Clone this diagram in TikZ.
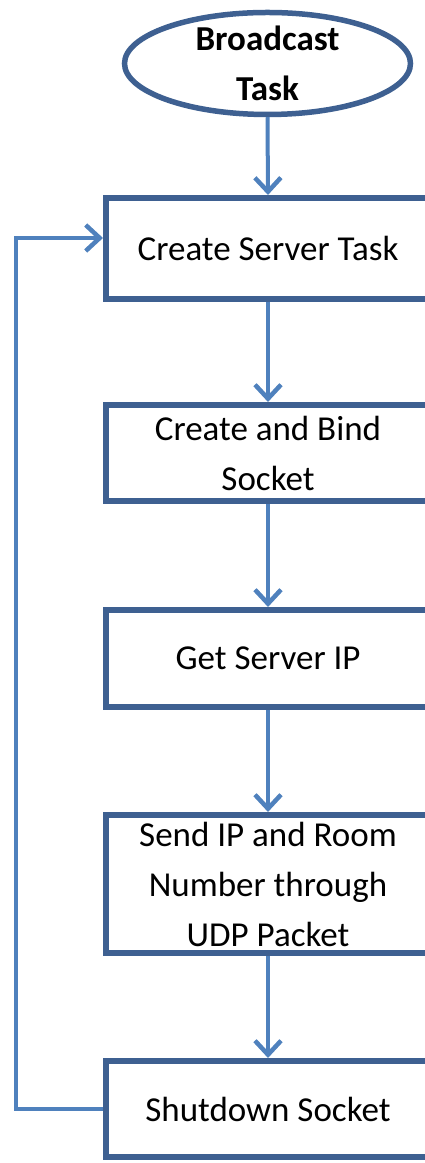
\documentclass[tikz,border=0pt]{standalone}
\usepackage{fontspec}
\setmainfont{Carlito}
\usetikzlibrary{arrows.meta,shapes.geometric}
\definecolor{boxblue}{RGB}{62,96,145}
\definecolor{flowblue}{RGB}{79,129,189}
\begin{document}
\begin{tikzpicture}[x=1pt,y=1pt,
  stepbox/.style={draw=boxblue, line width=6pt, rectangle,
    minimum width=324pt, inner sep=0pt, align=center,
    font=\fontsize{35}{50}\selectfont},
  startnode/.style={draw=boxblue, line width=5.5pt, ellipse,
    minimum width=286pt, minimum height=102pt, inner sep=0pt},
  flow/.style={draw=flowblue, line width=4pt,
    -{Straight Barb[length=14pt,width=26pt,line width=4.5pt]}}]
\clip (0,0) rectangle (425,1163);
\useasboundingbox (0,0) rectangle (425,1163);

% start terminal
\node[startnode] (start) at (267.5,1099.5) {};
\node[font=\bfseries\fontsize{35}{50}\selectfont, align=center, inner sep=0pt]
  (starttxt) at (start) {Broadcast\\Task};

% process steps
\node[stepbox, minimum height=101pt] (b1) at (268,914.5) {Create Server Task};
\node[stepbox, minimum height=96pt]  (b2) at (268,710)   {Create and Bind\\Socket};
\node[stepbox, minimum height=97pt]  (b3) at (268,504.5) {Get Server IP};
\node[stepbox, minimum height=138pt] (b4) at (268,279)   {Send IP and Room\\Number through\\UDP Packet};
\node[stepbox, minimum height=96pt]  (b5) at (268,54)    {Shutdown Socket};

% main flow
\draw[flow] (start.south) -- (b1.north);
\draw[flow] (b1.south) -- (b2.north);
\draw[flow] (b2.south) -- (b3.north);
\draw[flow] (b3.south) -- (b4.north);
\draw[flow] (b4.south) -- (b5.north);

% loop back to the server task
\coordinate (loop) at (16,925);
\draw[flow] (b5.west) -| (loop) -- (b1.west |- loop);
\end{tikzpicture}
\end{document}
